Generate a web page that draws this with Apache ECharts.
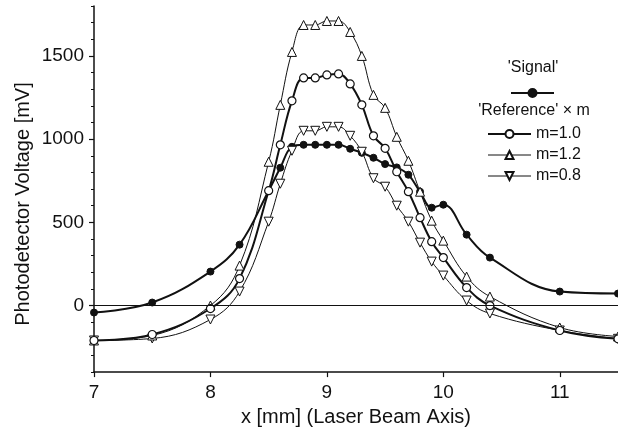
<!DOCTYPE html>
<html lang="en" style="height: 100%">

<head>
  <meta charset="utf-8">
  <style>
    html,
    body {
      margin: 0;
      padding: 0;
      width: 100%;
      height: 100%;
      overflow: hidden;
      background: #fff;
    }
  </style>
</head>

<body>
  <div id="container" style="height: 100%;width: 100%;"></div>

  <script type="text/javascript" src="https://cdn.jsdelivr.net/npm/echarts@6/dist/echarts.min.js"></script>
  <script type="text/javascript">

    var dom = document.getElementById('container');
    var myChart = echarts.init(dom, null, { renderer: 'canvas' });

    // x positions along the laser beam axis [mm]
    let xData = [7, 7.5, 8, 8.25, 8.5, 8.6, 8.7, 8.8, 8.9, 9.0, 9.1, 9.2, 9.3, 9.4, 9.5, 9.6, 9.7, 9.8, 9.9, 10.0, 10.2, 10.4, 11.0, 11.5];
    // photodetector voltage [mV]
    let signalData = [-42, 18, 204, 366, 690, 828, 954, 966, 966, 966, 966, 942, 918, 888, 850, 830, 786, 684, 588, 606, 426, 288, 84, 72];
    let ref10Data = [-210, -174, -18, 162, 690, 966, 1230, 1368, 1368, 1386, 1392, 1332, 1206, 1020, 945, 804, 684, 528, 384, 288, 108, 0, -150, -200];
    let ref12Data = [-210, -180, 0, 240, 864, 1206, 1524, 1686, 1686, 1710, 1710, 1644, 1500, 1266, 1188, 1014, 870, 684, 510, 390, 174, 54, -132, -186];
    let ref08Data = [-210, -198, -84, 84, 504, 732, 930, 1050, 1050, 1074, 1074, 1020, 924, 765, 714, 600, 504, 378, 264, 180, 30, -48, -150, -200];

    let xTicks = [7, 8, 9, 10, 11];
    let yTicks = [0, 500, 1000, 1500];
    let yMinorTicks = [-400, -300, -200, -100, 0, 100, 200, 300, 400, 500, 600, 700, 800, 900, 1000,
      1100, 1200, 1300, 1400, 1500, 1600, 1700, 1800];

    const pairs = (ys) => xData.map((x, i) => [x, ys[i]]);
    const font = 'Liberation Sans, Arial, sans-serif';
    const ink = '#111';

    var option = {
      animation: false,
      backgroundColor: '#fff',
      grid: {
        left: 94,
        right: -2,
        top: 6,
        bottom: 57
      },
      graphic: [{
        type: 'text',
        x: 23,
        y: 204,
        rotation: Math.PI / 2,
        style: {
          text: 'Photodetector Voltage [mV]',
          font: '20px ' + font,
          fill: ink,
          align: 'center',
          verticalAlign: 'middle'
        }
      }, {
        type: 'text',
        x: 533,
        y: 68,
        style: {
          text: "'Signal'",
          font: '16px ' + font,
          fill: ink,
          align: 'center',
          verticalAlign: 'middle'
        }
      }, {
        type: 'text',
        x: 534,
        y: 111,
        style: {
          text: "'Reference' \u00d7 m",
          font: '16px ' + font,
          fill: ink,
          align: 'center',
          verticalAlign: 'middle'
        }
      }],
      legend: [{
        data: [{ name: 'Signal', lineStyle: { width: 2 } }],
        left: 505,
        top: 83,
        itemWidth: 43,
        itemHeight: 10,
        formatter: function () { return ''; },
        selectedMode: false
      }, {
        data: [
          { name: 'm=1.0', lineStyle: { width: 2 } },
          { name: 'm=1.2', lineStyle: { width: 1 } },
          { name: 'm=0.8', lineStyle: { width: 1 } }
        ],
        orient: 'vertical',
        left: 482,
        top: 121,
        itemWidth: 43,
        itemHeight: 10,
        itemGap: 5,
        selectedMode: false,
        textStyle: {
          color: ink,
          fontSize: 16,
          fontFamily: font
        }
      }],
      xAxis: {
        type: 'value',
        min: 7,
        max: 11.5,
        name: 'x [mm] (Laser Beam Axis)',
        nameLocation: 'middle',
        nameGap: 34,
        nameTextStyle: {
          color: ink,
          fontSize: 20,
          fontFamily: font
        },
        axisLine: {
          show: true,
          onZero: false,
          lineStyle: { color: ink, width: 1.5 }
        },
        axisTick: {
          show: true,
          length: 5,
          customValues: xTicks,
          lineStyle: { color: ink, width: 1.2 }
        },
        axisLabel: {
          customValues: xTicks,
          margin: 11,
          color: ink,
          fontSize: 19,
          fontFamily: font
        },
        splitLine: { show: false }
      },
      yAxis: [{
        type: 'value',
        min: -400,
        max: 1800,
        axisLine: {
          show: true,
          onZero: false,
          lineStyle: { color: ink, width: 1.5 }
        },
        axisTick: {
          show: true,
          length: 5,
          customValues: yTicks,
          lineStyle: { color: ink, width: 1.2 }
        },
        axisLabel: {
          customValues: yTicks,
          formatter: function (v) { return String(v); },
          margin: 10,
          color: ink,
          fontSize: 19,
          fontFamily: font
        },
        splitLine: { show: false }
      }, {
        type: 'value',
        min: -400,
        max: 1800,
        position: 'left',
        axisLine: { show: false },
        axisTick: {
          show: true,
          length: 3,
          customValues: yMinorTicks,
          lineStyle: { color: ink, width: 1 }
        },
        axisLabel: { show: false },
        splitLine: { show: false }
      }],
      series: [{
        name: 'Signal',
        type: 'line',
        smooth: 0.4,
        data: pairs(signalData),
        symbol: 'circle',
        symbolSize: 7,
        itemStyle: { color: ink, borderColor: ink, borderWidth: 1 },
        lineStyle: { color: ink, width: 2 },
        markLine: {
          silent: true,
          symbol: ['none', 'none'],
          label: { show: false },
          lineStyle: { color: ink, width: 1, type: 'solid' },
          data: [{ yAxis: 0 }]
        }
      }, {
        name: 'm=0.8',
        type: 'line',
        smooth: 0.4,
        data: pairs(ref08Data),
        symbol: 'triangle',
        symbolRotate: 180,
        symbolSize: 9,
        itemStyle: { color: '#fff', borderColor: ink, borderWidth: 1 },
        lineStyle: { color: ink, width: 1 }
      }, {
        name: 'm=1.2',
        type: 'line',
        smooth: 0.4,
        data: pairs(ref12Data),
        symbol: 'triangle',
        symbolSize: 9,
        itemStyle: { color: '#fff', borderColor: ink, borderWidth: 1 },
        lineStyle: { color: ink, width: 1 }
      }, {
        name: 'm=1.0',
        type: 'line',
        smooth: 0.4,
        data: pairs(ref10Data),
        symbol: 'circle',
        symbolSize: 8,
        itemStyle: { color: '#fff', borderColor: ink, borderWidth: 1.2 },
        lineStyle: { color: ink, width: 2 }
      }]
    };

    myChart.setOption(option);
    window.addEventListener('resize', myChart.resize);

  </script>
</body>

</html>
